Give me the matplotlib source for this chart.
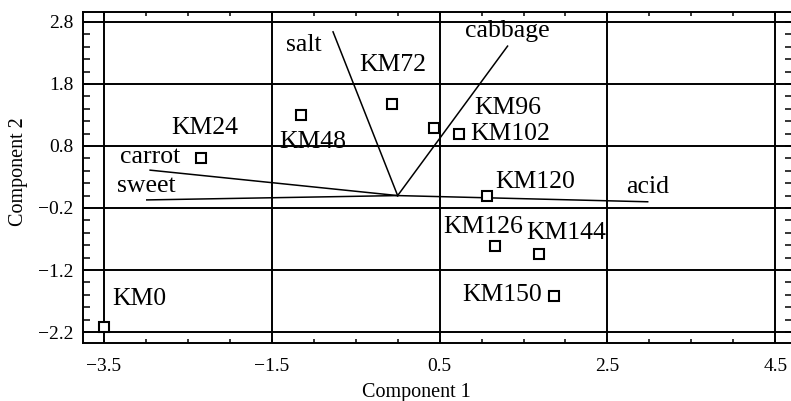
import numpy as np
import matplotlib
matplotlib.use("Agg")
import matplotlib.pyplot as plt
from matplotlib.ticker import MultipleLocator, FixedLocator

plt.rcParams['font.family'] = ['Liberation Serif', 'DejaVu Serif']

# PCA scores of the samples
samples = ['KM0', 'KM24', 'KM48', 'KM72', 'KM96', 'KM102',
           'KM120', 'KM126', 'KM144', 'KM150']
pc1 = [-3.50, -2.34, -1.15, -0.07, 0.43, 0.73, 1.06, 1.16, 1.69, 1.86]
pc2 = [-2.12, 0.61, 1.30, 1.48, 1.09, 0.99, 0.00, -0.81, -0.94, -1.62]

# loadings of the sensory attributes (drawn from the origin)
attributes = ['salt', 'cabbage', 'carrot', 'sweet', 'acid']
load1 = [-0.77, 1.31, -2.95, -2.99, 2.98]
load2 = [2.64, 2.41, 0.41, -0.07, -0.10]

xticks = [-3.5, -1.5, 0.5, 2.5, 4.5]
yticks = [-2.2, -1.2, -0.2, 0.8, 1.8, 2.8]

# label placement around each square: (dx, dy) in pixels, ha, va
sample_pos = {
    'KM0':   (35, 28, 'center', 'center'),
    'KM24':  (3, 30, 'center', 'center'),
    'KM48':  (12, -27, 'center', 'center'),
    'KM72':  (1, 39, 'center', 'center'),
    'KM96':  (74, 20, 'center', 'center'),
    'KM102': (11, 0, 'left', 'center'),
    'KM120': (9, 14, 'left', 'center'),
    'KM126': (-12, 19, 'center', 'center'),
    'KM144': (27, 21, 'center', 'center'),
    'KM150': (-12, 1, 'right', 'center'),
}
attr_pos = {
    'salt':    (-29, -13),
    'cabbage': (0, 15),
    'carrot':  (0, 13),
    'sweet':   (0, 14),
    'acid':    (0, 15),
}

fig = plt.figure(figsize=(7.91, 4.01), dpi=100)
ax = fig.add_axes([83 / 791, 58 / 401, 709 / 791, 331 / 401])

ax.set_xlim(-3.75, 4.70)
ax.set_ylim(-2.377, 2.96)

# grid on the major ticks
for x in xticks:
    ax.axvline(x, color='black', lw=1.4, zorder=1)
for y in yticks:
    ax.axhline(y, color='black', lw=1.4, zorder=1)

# loading vectors
for name, lx, ly in zip(attributes, load1, load2):
    ax.plot([0, lx], [0, ly], color='black', lw=1.1, zorder=2)
    dx, dy = attr_pos[name]
    ax.annotate(name, (lx, ly), xytext=(dx, dy), textcoords='offset pixels',
                ha='center', va='center', fontsize=18.5)

# sample scores
ax.plot(pc1, pc2, ls='none', marker='s', ms=7.5, mfc='white', mec='black',
        mew=1.5, zorder=3, clip_on=False)
for name, sx, sy in zip(samples, pc1, pc2):
    dx, dy, ha, va = sample_pos[name]
    ax.annotate(name, (sx, sy), xytext=(dx, dy), textcoords='offset pixels',
                ha=ha, va=va, fontsize=18.5)

ax.xaxis.set_major_locator(FixedLocator(xticks))
ax.yaxis.set_major_locator(FixedLocator(yticks))
ax.xaxis.set_minor_locator(MultipleLocator(0.5))
ax.yaxis.set_minor_locator(MultipleLocator(0.2))
ax.set_xticklabels([f'{v:.1f}'.replace('-', '\u2212') for v in xticks])
ax.set_yticklabels([f'{v:.1f}'.replace('-', '\u2212') for v in yticks])

ax.tick_params(which='both', direction='in', top=True, right=True,
               width=1.1, labelsize=14)
ax.tick_params(axis='x', which='both', length=3, pad=11)
ax.tick_params(axis='y', which='both', length=5, pad=7)

for s in ax.spines.values():
    s.set_linewidth(1.4)

# axis titles
fig.text(416 / 791, 1 - 392 / 401, 'Component 1', fontsize=14.5,
         ha='center', va='center')
fig.text(19 / 791, 1 - 172 / 401, 'Component 2', fontsize=14.5,
         ha='center', va='center', rotation=90)

fig.savefig('out.png', dpi=100)
